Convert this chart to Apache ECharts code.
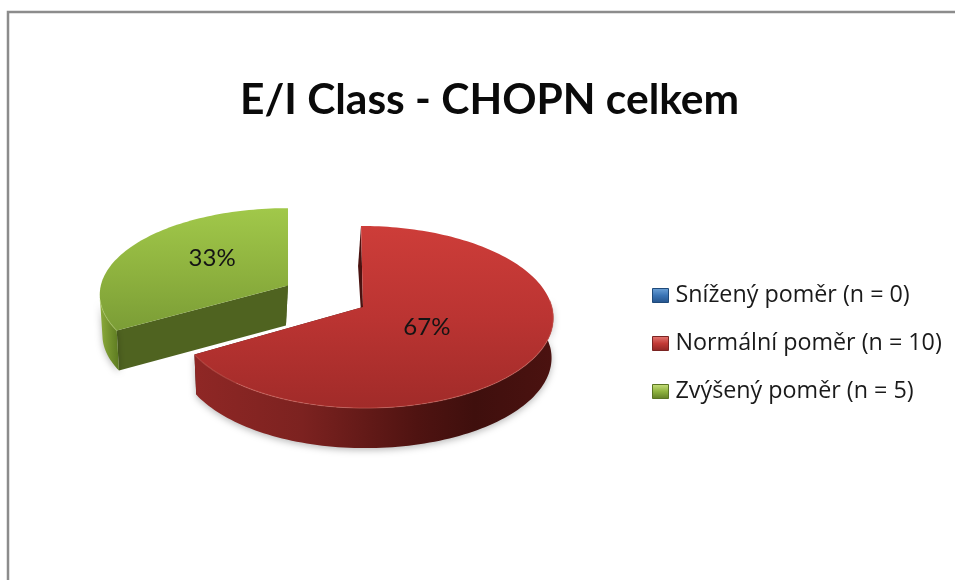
<!DOCTYPE html>
<html>
<head>
<meta charset="utf-8">
<style>html,body{margin:0;padding:0;background:#fff}#c{width:955px;height:580px;overflow:hidden}#c canvas{filter:blur(.45px)}</style>
<script src="https://cdn.jsdelivr.net/npm/echarts@6/dist/echarts.min.js"></script>
</head>
<body>
<div id="c"></div>
<script>
var titleText = 'E/I Class - CHOPN celkem';
var categories = ['Snížený poměr (n = 0)', 'Normální poměr (n = 10)', 'Zvýšený poměr (n = 5)'];
var values = [0, 10, 5];

var total = values.reduce(function (a, b) { return a + b; }, 0);
var G = echarts.graphic.LinearGradient;
function vgrad(stops) { return new G(0, 0, 0, 1, stops.map(function (c, i) { return { offset: i / (stops.length - 1), color: c }; })); }
function hgrad(stops) { return new G(0, 0, 1, 0, stops.map(function (s) { return { offset: s[0], color: s[1] }; })); }

/* projection of the pie disc: perspective from a tilted camera */
var P = { x: 363, y: 307, s: 189, h: 90, k: 0.11, depth: 40 };

var styles = [
  { explode: 0, labelR: 0.38, labelDy: 3, sLeft: 185, skew: 2, rear: 3, bcx: 370, bs: 0.99, sy: 0,
    top: ['#3f7fc4', '#2c5f9a'], wall: hgrad([[0, '#2a5a90'], [1, '#16304e']]), radial: '#1e3f66', edge: 'rgba(150,190,240,.35)',
    swatch: ['#6ea3d8', '#3a74b5', '#24528a'], border: '#1f4a7a' },
  { explode: 0, labelR: 0.38, labelDy: 3, sLeft: 185, skew: 2, rear: 3, bcx: 370, bs: 0.99, sy: 0,
    top: ['#cd3d39', '#bb3432', '#a12b29'],
    wall: hgrad([[0, '#8f2725'], [0.3, '#7c2220'], [0.62, '#4f1311'], [0.78, '#3f0f0d'], [1, '#4b1210']]),
    radial: '#4a1210', edge: 'rgba(225,120,110,.38)',
    swatch: ['#e57a74', '#c23a36', '#8e2523'], border: '#7a2422' },
  { explode: 0.47, labelR: 0.48, labelDy: -7, sLeft: 192, skew: 0, rear: 0, bcx: 205, bs: 0.975, sy: -1,
    top: ['#a1c84a', '#8fb33f', '#7b9d36'],
    wall: hgrad([[0, '#8cab3c'], [1, '#5c7a20']]),
    radial: '#4f6320', edge: 'rgba(190,215,120,.35)',
    swatch: ['#c9e07f', '#8fb33f', '#5f7d25'], border: '#5a7523' }
];

function makeRender(idx) {
  return function (params, api) {
    var val = api.value(0);
    if (!val) { return null; }
    var before = 0;
    for (var i = 0; i < idx; i++) { before += values[i]; }
    var a0 = before / total * 2 * Math.PI, a1 = (before + val) / total * 2 * Math.PI;
    var st = styles[idx];
    var mid = (a0 + a1) / 2;
    var ou = Math.sin(mid) * st.explode, ov = -Math.cos(mid) * st.explode;
    var ox = ou * P.s / (1 - P.k * ov);
    var pt = function (a, r) {
      var u = Math.sin(a) * r, v = -Math.cos(a) * r, vv = ov + v;
      var d = 1 - P.k * vv;
      return [P.x + ox + u * (u < 0 ? st.sLeft : P.s) / d + st.skew * v, P.y + st.sy + vv * P.h / d];
    };
    var down = function (p) {
      var rearShift = Math.min(0, (p[1] - P.y) / 81) * st.rear;
      return [st.bcx + (p[0] - st.bcx) * st.bs + rearShift, p[1] + P.depth];
    };
    var arc = [];
    var n = Math.ceil((a1 - a0) / (Math.PI / 120));
    for (var j = 0; j <= n; j++) { arc.push(pt(a0 + (a1 - a0) * j / n, 1)); }
    var apex = pt(0, 0);
    var arcDown = arc.map(down).reverse();
    var radialWall = function (p) {
      return { type: 'polygon', shape: { points: [apex, p, down(p), down(apex)] }, style: { fill: st.radial } };
    };
    var front = arc.filter(function (p) { return p[1] > P.y - 8; });
    var kids = [];
    kids.push({ type: 'polygon', shape: { points: arc.concat(arcDown) },
      style: { fill: 'rgba(0,0,0,0)', shadowBlur: 7, shadowColor: 'rgba(0,0,0,.28)', shadowOffsetY: 2 } });
    kids.push(radialWall(arc[0]));
    kids.push(radialWall(arc[arc.length - 1]));
    if (front.length > 1) {
      kids.push({ type: 'polygon', shape: { points: front.concat(front.map(down).reverse()) },
        style: { fill: st.wall, shadowBlur: 7, shadowColor: 'rgba(0,0,0,.28)', shadowOffsetY: 2 } });
    }
    kids.push({ type: 'polygon', shape: { points: [apex].concat(arc) }, style: { fill: vgrad(st.top) } });
    if (front.length > 1) {
      kids.push({ type: 'polyline', shape: { points: front }, style: { fill: 'none', stroke: st.edge, lineWidth: 1.2 } });
    }
    var lp = pt(mid, st.labelR);
    kids.push({ type: 'text', x: lp[0], y: lp[1] + st.labelDy,
      style: { text: Math.round(val / total * 100) + '%', fill: '#141414', align: 'center', verticalAlign: 'middle',
        font: '24px Lato, "Open Sans", sans-serif' } });
    return { type: 'group', children: kids };
  };
}

var chart = echarts.init(document.getElementById('c'), null, { renderer: 'canvas', width: 955, height: 580 });
chart.setOption({
  animation: false,
  backgroundColor: '#ffffff',
  title: {
    text: titleText, left: 235, top: 74,
    textStyle: { fontFamily: 'Lato, "Open Sans", sans-serif', fontSize: 42.5, fontWeight: 'bold', color: '#0a0a0a' }
  },
  legend: {
    orient: 'vertical', left: 647, top: 279, itemWidth: 16, itemHeight: 14, itemGap: 25, selectedMode: false,
    textStyle: { fontFamily: '"Open Sans", Lato, sans-serif', fontSize: 23.3, color: '#1a1a1a', padding: [0, 0, 0, 2] },
    data: categories.map(function (c, i) {
      return { name: c, icon: 'rect', itemStyle: { color: vgrad(styles[i].swatch), borderColor: styles[i].border, borderWidth: 1 } };
    })
  },
  graphic: [{
    type: 'rect', shape: { x: 8, y: 12, width: 1200, height: 900 }, silent: true, z: -1,
    style: { fill: '#fff', stroke: '#8c8c8c', lineWidth: 2.5 }
  }],
  series: categories.map(function (c, i) {
    return {
      type: 'custom', name: c, coordinateSystem: 'none', silent: true,
      itemStyle: { color: styles[i].top[0] },
      renderItem: makeRender(i), data: [[values[i]]]
    };
  })
});
</script>
</body>
</html>
